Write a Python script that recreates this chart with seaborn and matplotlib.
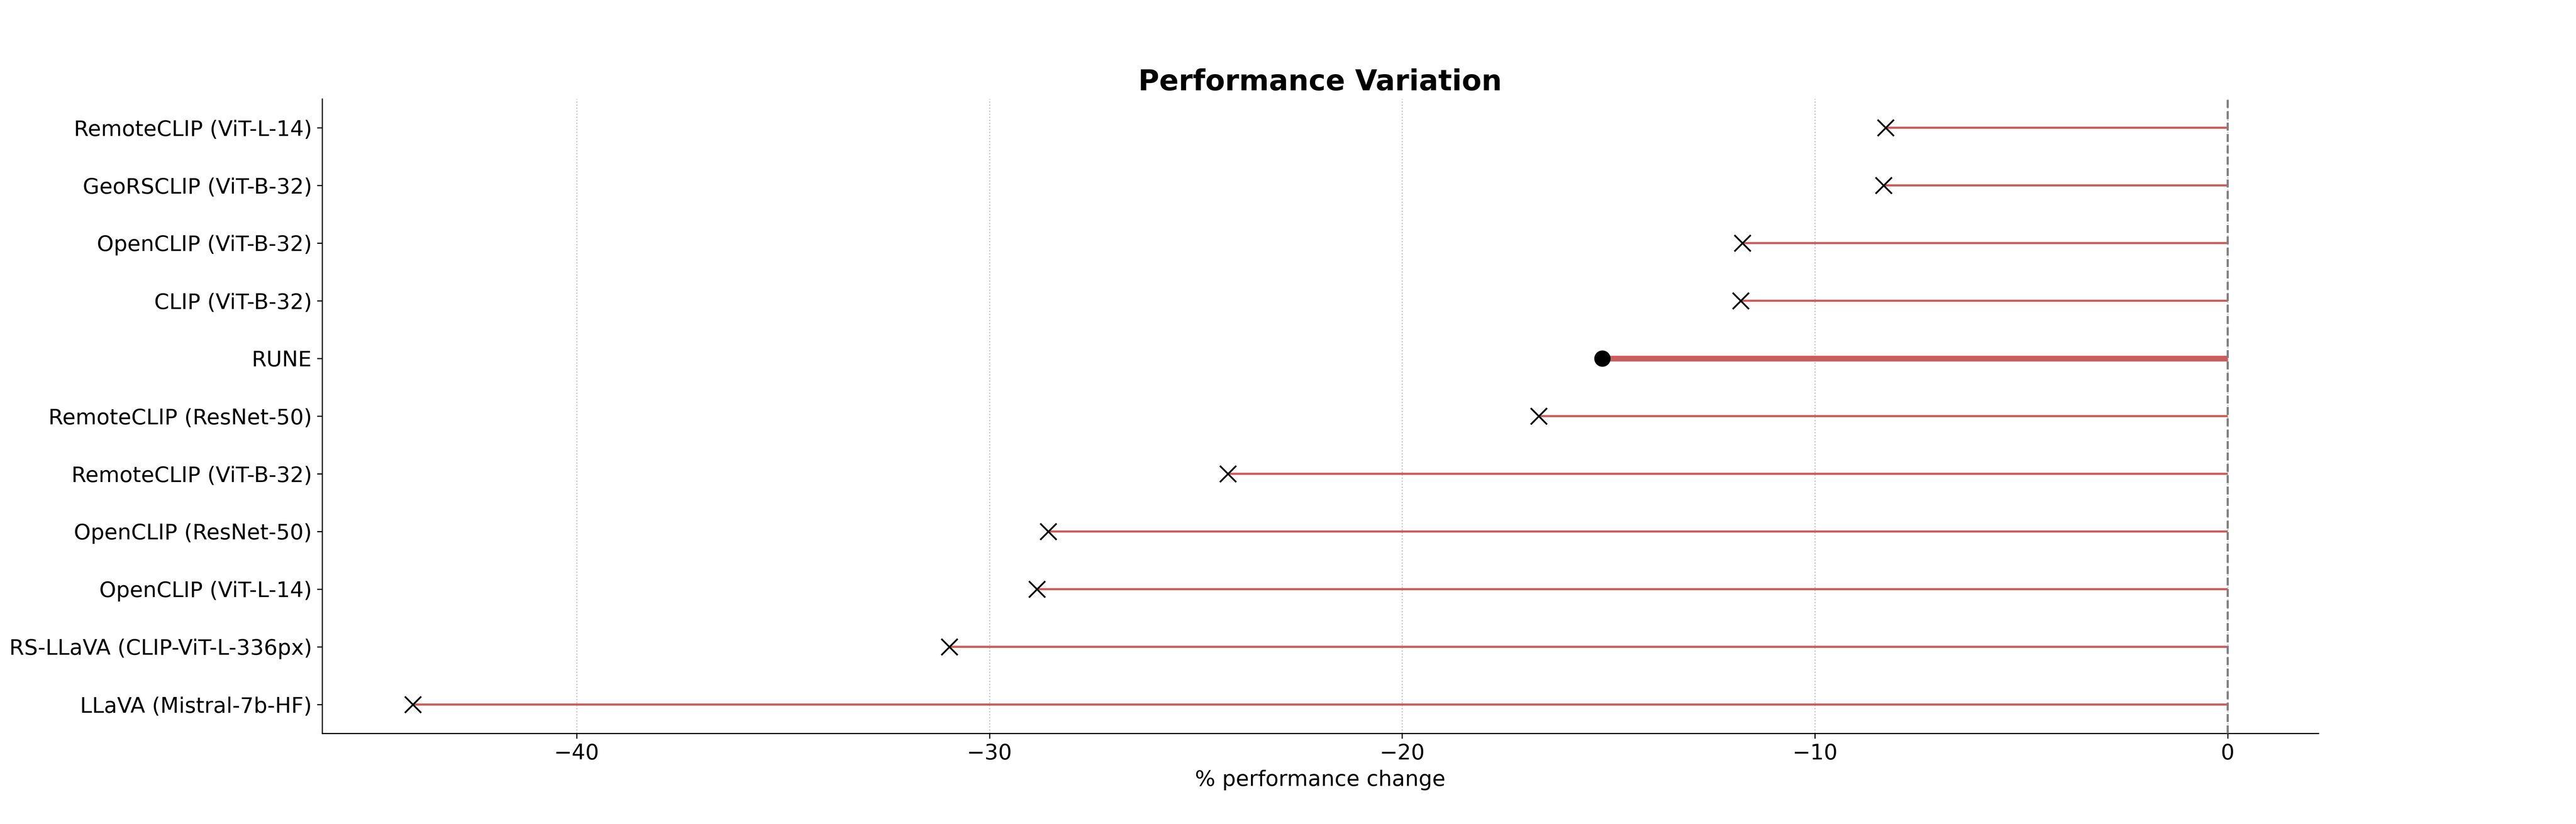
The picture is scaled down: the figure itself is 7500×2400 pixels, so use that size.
import numpy as np
import pandas as pd
import seaborn as sns
import matplotlib
matplotlib.use('Agg')
import matplotlib.pyplot as plt

# models ordered bottom -> top, % change
models = [
    'LLaVA (Mistral-7b-HF)',
    'RS-LLaVA (CLIP-ViT-L-336px)',
    'OpenCLIP (ViT-L-14)',
    'OpenCLIP (ResNet-50)',
    'RemoteCLIP (ViT-B-32)',
    'RemoteCLIP (ResNet-50)',
    'RUNE',
    'CLIP (ViT-B-32)',
    'OpenCLIP (ViT-B-32)',
    'GeoRSCLIP (ViT-B-32)',
    'RemoteCLIP (ViT-L-14)',
]
changes = [-43.97, -30.97, -28.85, -28.57, -24.22, -16.69, -15.15, -11.80, -11.76, -8.34, -8.29]
highlight = 'RUNE'

df = pd.DataFrame({'model': models, 'change': changes})
df['pos'] = np.arange(len(df))
is_ours = df['model'] == highlight

sns.set_style('ticks', rc={'text.color': 'black', 'axes.labelcolor': 'black',
                           'xtick.color': 'black', 'ytick.color': 'black',
                           'axes.edgecolor': 'black'})
plt.rcParams['font.family'] = ['DejaVu Sans']

fig, ax = plt.subplots(figsize=(25, 8), dpi=300)

ax.grid(axis='x', linestyle=':', color='#b0b0b0', linewidth=0.8, alpha=0.8)
ax.set_axisbelow(True)

# stems from 0 to each value, thicker for RUNE
widths = np.where(is_ours, 4, 1.5)
ax.hlines(df['pos'], 0, df['change'], color='indianred', linewidth=widths, zorder=2)
ax.axvline(0, color='gray', linestyle='--', linewidth=1.5, zorder=3)

sns.scatterplot(data=df[~is_ours], x='change', y='pos', marker='x', color='black',
                s=130, linewidth=1.2, legend=False, zorder=4, ax=ax)
sns.scatterplot(data=df[is_ours], x='change', y='pos', marker='o', color='black',
                s=130, linewidth=0, legend=False, zorder=4, ax=ax)

ax.set_yticks(df['pos'])
ax.set_yticklabels(df['model'], fontsize=15)
ax.tick_params(axis='x', labelsize=15)
ax.set_ylabel('')
ax.set_xlabel('% performance change', fontsize=15)
ax.set_title('Performance Variation', fontsize=20, fontweight='bold')
sns.despine(ax=ax)

plt.savefig('out.png', dpi=300)
plt.close()
